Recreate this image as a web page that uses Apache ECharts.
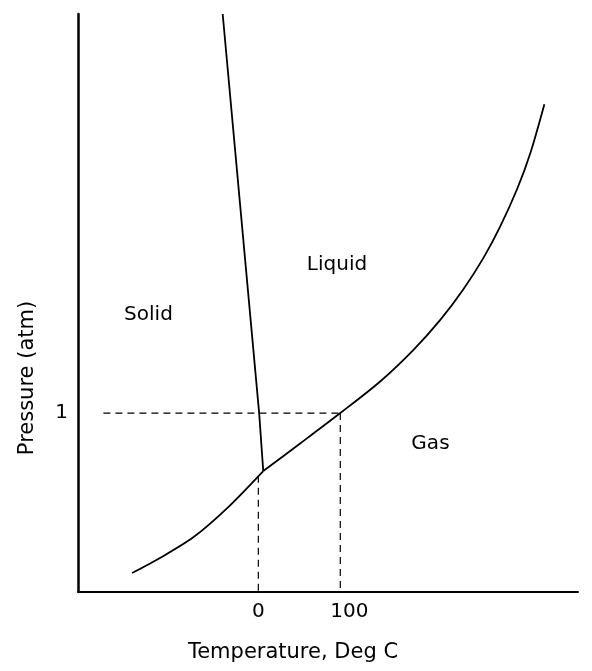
<!DOCTYPE html>
<html>
<head>
<meta charset="utf-8">
<script src="https://cdn.jsdelivr.net/npm/echarts/dist/echarts.min.js"></script>
<style>
html,body{margin:0;padding:0;background:#fff;}
#chart{width:592px;height:671px;}
</style>
</head>
<body>
<div id="chart"></div>
<script>
// Solid-gas boundary (temperature, pressure), up to the triple point
const subT = [-154, -120, -79, -38, 6];
const subP = [0.106, 0.19, 0.307, 0.469, 0.676];
// Liquid-gas boundary, from the triple point
const vapT = [6, 51, 100, 149, 189, 222, 250, 274.5, 295, 316, 332, 349];
const vapP = [0.676, 0.83, 1.0, 1.178, 1.352, 1.521, 1.691, 1.866, 2.042, 2.255, 2.455, 2.726];
// Solid-liquid boundary
const meltT = [-43.5, 1, 6];
const meltP = [3.23, 1.0, 0.676];
// Reference (dashed) lines
const refHT = [-189, 100];
const refHP = [1, 1];
const ref100T = [100, 100];
const ref100P = [1, 0];
const ref0T = [0, 0];
const ref0P = [0.65, 0];
// Region labels
const regionNames = ['Solid', 'Liquid', 'Gas'];
const regionT = [-134, 96, 210];
const regionP = [1.55, 1.83, 0.83];
// Tick labels
const xTicks = [0, 100];
const yTicks = [1];

const zip = (a, b) => a.map((v, i) => [v, b[i]]);
const font = 'DejaVu Sans';
const solid = { color: '#000', width: 1.8 };
const dashed = { color: '#000', width: 1.2, type: [7, 5] };

const chart = echarts.init(document.getElementById('chart'));
chart.setOption({
  animation: false,
  backgroundColor: '#fff',
  grid: { left: 78, right: 14, top: 14, bottom: 79, outerBoundsMode: 'none', containLabel: false },
  xAxis: {
    type: 'value', min: -220, max: 390,
    axisLine: { show: true, onZero: false, lineStyle: { color: '#000', width: 2 } },
    axisTick: { show: false },
    splitLine: { show: false },
    axisLabel: {
      customValues: xTicks, margin: 10, color: '#000', fontFamily: font, fontSize: 20,
      formatter: v => v === 100 ? '{b|100}' : String(v),
      rich: { b: { padding: [0, 0, 0, 18], fontFamily: font, fontSize: 20, color: '#000' } }
    }
  },
  yAxis: {
    type: 'value', min: 0, max: 3.23,
    axisLine: { show: true, onZero: false, lineStyle: { color: '#000', width: 2.5 } },
    axisTick: { show: false },
    splitLine: { show: false },
    axisLabel: { customValues: yTicks, margin: 10, color: '#000', fontFamily: font, fontSize: 20 }
  },
  graphic: [
    { type: 'text', x: 293, y: 653, style: { text: 'Temperature, Deg C', fill: '#000', font: '21px "DejaVu Sans"', align: 'center', verticalAlign: 'middle' } },
    { type: 'text', x: 28, y: 378, rotation: Math.PI / 2, style: { text: 'Pressure (atm)', fill: '#000', font: '21px "DejaVu Sans"', align: 'center', verticalAlign: 'middle' } }
  ],
  series: [
    { type: 'line', data: zip(subT, subP), smooth: 0.3, symbol: 'none', lineStyle: solid },
    { type: 'line', data: zip(vapT, vapP), smooth: 0.3, symbol: 'none', lineStyle: solid },
    { type: 'line', data: zip(meltT, meltP), symbol: 'none', lineStyle: solid },
    { type: 'line', data: zip(refHT, refHP), symbol: 'none', lineStyle: dashed },
    { type: 'line', data: zip(ref100T, ref100P), symbol: 'none', lineStyle: dashed },
    { type: 'line', data: zip(ref0T, ref0P), symbol: 'none', lineStyle: dashed },
    {
      type: 'scatter', symbolSize: 1, itemStyle: { opacity: 0 },
      data: regionNames.map((n, i) => ({ name: n, value: [regionT[i], regionP[i]] })),
      label: { show: true, position: 'inside', formatter: p => p.name, color: '#000', opacity: 1, fontFamily: font, fontSize: 20 }
    }
  ]
});
</script>
</body>
</html>
